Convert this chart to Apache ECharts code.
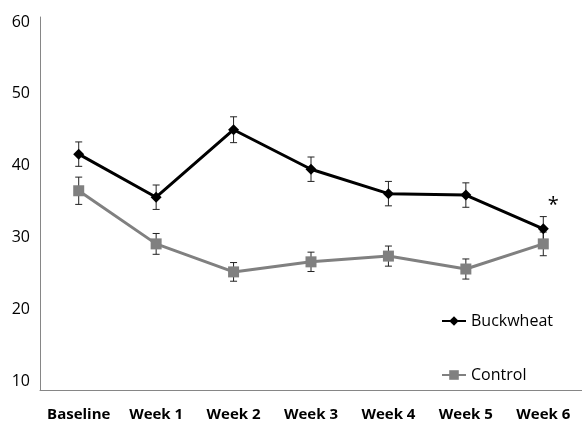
<!DOCTYPE html>
<html>
<head>
<meta charset="utf-8">
<script src="https://cdn.jsdelivr.net/npm/echarts@6/dist/echarts.min.js"></script>
<style>
  html, body { margin: 0; padding: 0; background: #fff; }
  #chart { width: 582px; height: 423px; }
</style>
</head>
<body>
<div id="chart"></div>
<script>
const categories = ['Baseline', 'Week 1', 'Week 2', 'Week 3', 'Week 4', 'Week 5', 'Week 6']
const buckwheat = [41.6, 35.6, 45.0, 39.5, 36.1, 35.9, 31.2]
const buckwheatErr = [1.7, 1.7, 1.8, 1.7, 1.7, 1.7, 1.7]
const control = [36.5, 29.1, 25.2, 26.6, 27.4, 25.6, 29.1]
const controlErr = [1.9, 1.45, 1.3, 1.35, 1.4, 1.4, 1.65]
const buckwheatMarks = ['', '', '', '', '', '', '*']
const yTicks = [10, 20, 30, 40, 50, 60]

const FONT = '"Open Sans", sans-serif'
const AXIS = '#868686'

// error bars as [categoryIndex, low, high]
const errRows = (vals, errs) => vals.map((v, i) => [i, v - errs[i], v + errs[i]])

function renderErrorBar(params, api) {
  const lo = api.coord([api.value(0), api.value(1)])
  const hi = api.coord([api.value(0), api.value(2)])
  const cap = 3.5
  const style = { stroke: '#222', lineWidth: 1 }
  return {
    type: 'group',
    children: [
      { type: 'line', shape: { x1: lo[0], y1: lo[1], x2: hi[0], y2: hi[1] }, style },
      { type: 'line', shape: { x1: lo[0] - cap, y1: lo[1], x2: lo[0] + cap, y2: lo[1] }, style },
      { type: 'line', shape: { x1: hi[0] - cap, y1: hi[1], x2: hi[0] + cap, y2: hi[1] }, style },
    ],
  }
}

const chart = echarts.init(document.getElementById('chart'))
chart.setOption({
  animation: false,
  backgroundColor: '#fff',
  textStyle: { fontFamily: FONT },
  grid: { left: 40, right: 0, top: 17, bottom: 33 },
  legend: {
    data: ['Buckwheat', 'Control'],
    orient: 'vertical',
    right: 24,
    top: 308,
    itemGap: 38,
    itemWidth: 24,
    itemHeight: 12,
    textStyle: { color: '#000', fontSize: 16, fontFamily: FONT },
  },
  xAxis: {
    type: 'category',
    data: categories,
    axisLine: { lineStyle: { color: AXIS, width: 1 } },
    axisTick: { show: false },
    axisLabel: { interval: 0, color: '#000', fontSize: 15, fontWeight: 'bold', margin: 17, fontFamily: FONT },
    splitLine: { show: false },
  },
  yAxis: {
    type: 'value',
    min: 8.75,
    max: 60.7,
    axisLine: { show: true, lineStyle: { color: AXIS, width: 1 } },
    axisTick: { show: false },
    splitLine: { show: false },
    axisLabel: {
      color: '#000',
      fontSize: 16,
      margin: 10,
      fontFamily: FONT,
      customValues: yTicks,
      showMinLabel: true,
      showMaxLabel: true,
    },
  },
  series: [
    {
      name: 'Buckwheat err',
      type: 'custom',
      renderItem: renderErrorBar,
      data: errRows(buckwheat, buckwheatErr),
      z: 1,
      silent: true,
    },
    {
      name: 'Control err',
      type: 'custom',
      renderItem: renderErrorBar,
      data: errRows(control, controlErr),
      z: 1,
      silent: true,
    },
    {
      name: 'Buckwheat',
      type: 'line',
      data: buckwheat.map((v, i) => ({
        value: v,
        label: {
          show: !!buckwheatMarks[i],
          formatter: buckwheatMarks[i],
          position: 'top',
          offset: [10, -3],
          fontSize: 20,
          color: '#000',
        },
      })),
      symbol: 'diamond',
      symbolSize: 11,
      itemStyle: { color: '#000' },
      lineStyle: { color: '#000', width: 3 },
      z: 3,
    },
    {
      name: 'Control',
      type: 'line',
      data: control,
      symbol: 'rect',
      symbolSize: 11,
      itemStyle: { color: '#808080' },
      lineStyle: { color: '#808080', width: 3 },
      z: 2,
    },
  ],
})
</script>
</body>
</html>
